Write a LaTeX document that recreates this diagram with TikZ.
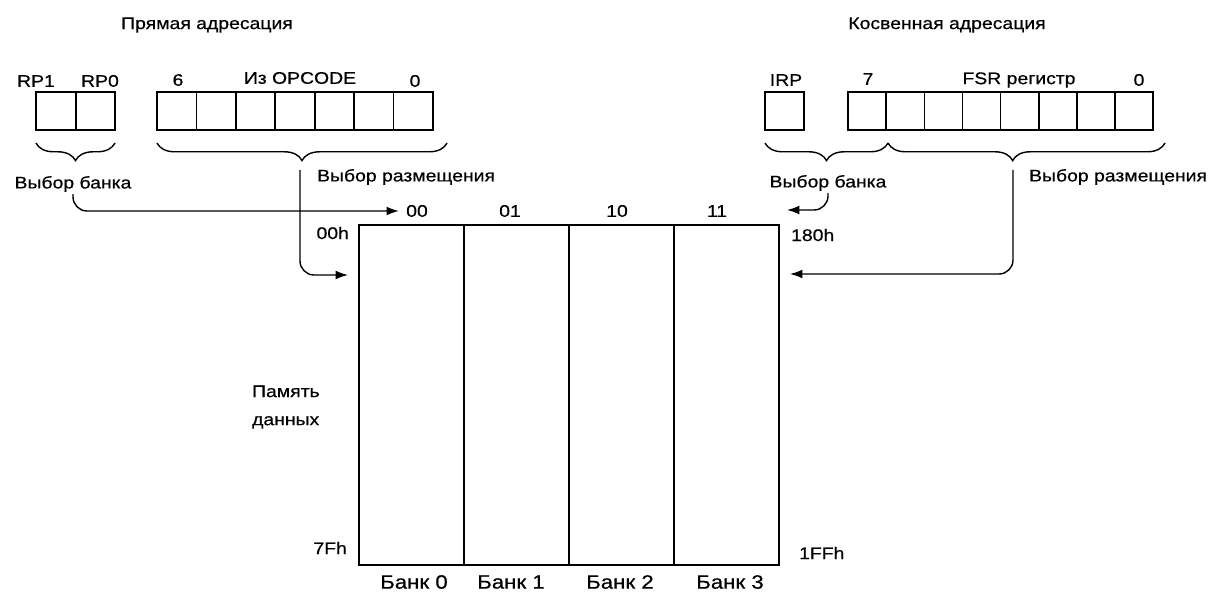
\documentclass[tikz,border=0pt]{standalone}
\usepackage{fontspec}
\setmainfont{Liberation Sans}[FakeStretch=1.15, FakeBold=0.5]
\usepackage{tikz}
\usetikzlibrary{arrows.meta,decorations.pathreplacing}

\begin{document}
\begin{tikzpicture}[
  x=0.02cm, y=-0.02cm,
  >={Latex[length=7pt,width=5pt]},
  every node/.style={font=\fontsize{9.6}{11}\selectfont, inner sep=1pt},
  cell/.style={draw, line width=.9pt, inner sep=0pt, outer sep=0pt, minimum height=0.76cm},
  bank/.style={draw, line width=.9pt, inner sep=0pt, outer sep=0pt, minimum width=2.1cm, minimum height=6.8cm},
  brc/.style={decorate, decoration={brace, mirror, amplitude=10pt}, line width=.8pt},
  arr/.style={->, line width=.8pt, rounded corners=8pt},
  big/.style={font=\fontsize{11}{13}\selectfont}
]
\useasboundingbox (0,0) rectangle (1212,591);
\node (tDir) at (207,25) {Прямая адресация};
\node (tInd) at (947,25) {Косвенная адресация};
\node (rp1) at (36,81) {RP1};
\node (rp0) at (100,81) {RP0};
\node (b6) at (178,80) {6};
\node (opc) at (300,78) {Из OPCODE};
\node (b0L) at (415,81) {0};
\node (irp) at (786,80) {IRP};
\node (b7) at (868,79) {7};
\node (fsr) at (1019,80) {FSR регистр};
\node (b0R) at (1139,80) {0};
\foreach \i in {0,1}
  \node[cell, minimum width=0.79cm] (rpc\i) at ({95.5-\i*39.5},111) {};
\foreach \i in {0,...,6}
  \node[cell, minimum width=0.788cm] (op\i) at ({413.3-\i*39.43},111) {};
\node[cell, minimum width=0.78cm] (irpc) at (784.5,111) {};
\foreach \i in {0,...,7}
  \node[cell, minimum width=0.7625cm] (fsr\i) at ({1134-\i*38.125},111) {};
\draw[brc] (36,143) -- (115,143);
\draw[brc] (157,143) -- (447,143);
\draw[brc] (765,143) -- (888,143);
\draw[brc, decoration={aspect=0.45}] (888,143) -- (1165,143);
\node (bankL) at (73,184) {Выбор банка};
\node[anchor=west] (locL) at (315,177) {Выбор размещения};
\node (bankR) at (828,183) {Выбор банка};
\node[anchor=west] (locR) at (1027,177) {Выбор размещения};
\foreach \i in {0,...,3}
  \node[bank] (bk\i) at ({411.5+\i*105},395) {};
\node (h00) at (417,211) {00};
\node (h01) at (510,211) {01};
\node (h10) at (617,211) {10};
\node (h11) at (717,211) {11};
\node[anchor=east] (a00) at (351,233) {00h};
\node[anchor=east] (a7f) at (349,548) {7Fh};
\node[anchor=west] (a180) at (789,235) {180h};
\node[anchor=west] (a1ff) at (797,553) {1FFh};
\node[anchor=west, align=left, font=\fontsize{9.6}{16}\selectfont] (mem) at (250,407) {Память\\данных};
\node[big] (lb0) at (414,582) {Банк 0};
\node[big] (lb1) at (511,582) {Банк 1};
\node[big] (lb2) at (620,582) {Банк 2};
\node[big] (lb3) at (730,582) {Банк 3};
\coordinate (selOp) at (300,170);
\coordinate (selFsr) at (1013,170);
\coordinate (inOp) at (348,275);
\coordinate (inFsr) at (790,274);
\coordinate (inBank) at (787,210);
\draw[arr, shorten >=3pt] (bankL.south) |- (h00.west);
\draw[arr] (bankR.south) |- (inBank);
\draw[arr] (selOp) |- (inOp);
\draw[arr] (selFsr) |- (inFsr);
\end{tikzpicture}
\end{document}
